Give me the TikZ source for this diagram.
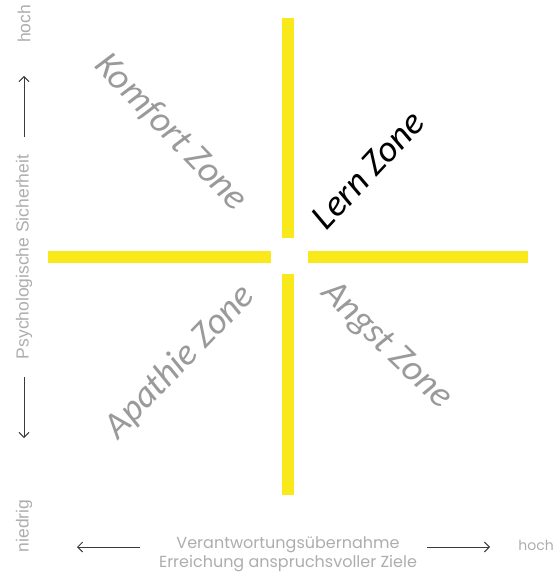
\documentclass[tikz,border=0pt]{standalone}
\usepackage{fontspec}
\setmainfont{Carlito}
\newfontfamily\axisfont{Poppins}
\newfontfamily\sidefont{Liberation Sans}
\usetikzlibrary{positioning,arrows.meta}
\definecolor{gelb}{HTML}{F9E81A}
\definecolor{zonegrau}{HTML}{9A9A9A}
\definecolor{achsgrau}{HTML}{ADADAD}
\definecolor{pfeilgrau}{HTML}{3A3A3A}

\begin{document}
\begin{tikzpicture}[x=1pt, y=-1pt,
      zone/.style={font=\itshape\fontsize{37}{37}\selectfont, text=zonegrau, inner sep=0pt},
      axis/.style={font=\axisfont\fontsize{16}{18}\selectfont, text=achsgrau, inner sep=0pt, align=center},
      side/.style={font=\sidefont\fontsize{17.5}{18}\selectfont, text=achsgrau, inner sep=0pt, rotate=90},
      bar/.style={line width=11.5pt, color=gelb},
      arrow/.style={-{Straight Barb[length=5pt,width=10pt]}, line width=0.9pt, color=pfeilgrau}
    ]
      \useasboundingbox (0,0) rectangle (555,577);
      % gelbes Kreuz
      \draw[bar] (288,18) -- (288,238);
      \draw[bar] (288,274) -- (288,495);
      \draw[bar] (48,257) -- (271,257);
      \draw[bar] (308,257) -- (528,257);
      % Zonen
      \node[zone, rotate=-46] (komfort) at (171,132) {Komfort Zone};
      \node[zone, rotate=47, text=black] (lern) at (368,170) {Lern Zone};
      \node[zone, rotate=46] (apathie) at (180,362) {Apathie Zone};
      \node[zone, rotate=-44] (angst) at (386,346) {Angst Zone};
      % Achse links
      \node[side] (sicher) at (24,257) {Psychologische Sicherheit};
      \node[side] (hochy) at (24,24) {hoch};
      \node[side] (niedrig) at (24,526) {niedrig};
      \coordinate (oben1) at (24,137);
      \coordinate (oben2) at (24,76);
      \coordinate (unten1) at (24,377);
      \coordinate (unten2) at (24,438);
      \draw[arrow] (oben1) -- (oben2);
      \draw[arrow] (unten1) -- (unten2);
      % Achse unten
      \node[axis] (verantw) at (288,545) {Verantwortungsübernahme};
      \node[axis, below=2pt of verantw] (ziele) {Erreichung anspruchsvoller Ziele};
      \node[axis, anchor=east, font=\axisfont\fontsize{14}{16}\selectfont] (hochx) at (554,545) {hoch};
      \coordinate (links1) at (140,547);
      \coordinate (links2) at (77,547);
      \coordinate (rechts1) at (427,547);
      \coordinate (rechts2) at (490,547);
      \draw[arrow] (links1) -- (links2);
      \draw[arrow] (rechts1) -- (rechts2);
    \end{tikzpicture}
\end{document}
